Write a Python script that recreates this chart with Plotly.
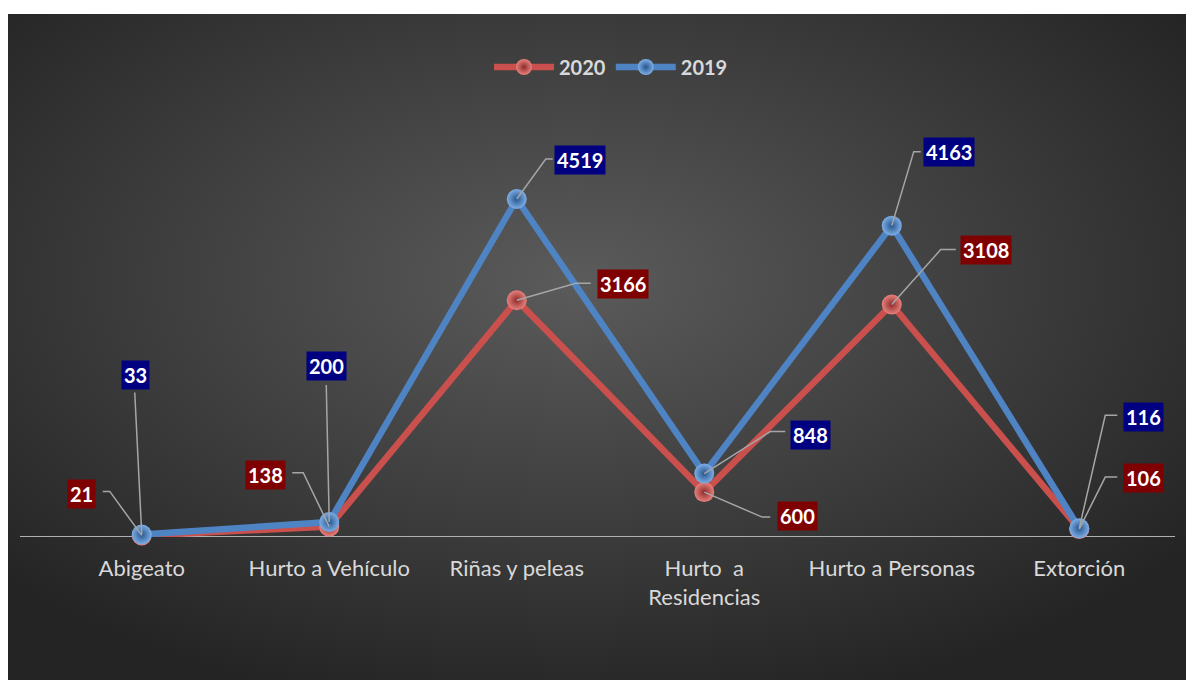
import base64
import plotly.graph_objects as go

# ---------------- data ----------------
categories = ["Abigeato", "Hurto a Vehículo", "Riñas y peleas",
              "Hurto  a<br>Residencias", "Hurto a Personas", "Extorción"]
series_names = ["2020", "2019"]
values_2020 = [21, 138, 3166, 600, 3108, 106]
values_2019 = [33, 200, 4519, 848, 4163, 116]

# ---------------- styling ----------------
OFF = 8                       # page body margin
W, H = 1194 - OFF, 683 - OFF
PLOT_L, PLOT_R, PLOT_T, PLOT_B = 48 - OFF, 1173 - OFF, 100 - OFF, 537 - OFF
PX_PER_UNIT = 0.074795
FONT = "Lato, 'Open Sans', sans-serif"
TXT = "#d9d9d9"

styles = {
    "2020": dict(line="#c9504d", center="#e8817e", edge="#8e2b29", box="#7f0000"),
    "2019": dict(line="#4f84c4", center="#7eaee6", edge="#27568f", box="#000080"),
}

# label placement: (dx, dy) box-centre offset from point in screen px (y down),
# leader polyline points relative to the point (screen px, y down)
label_layout = {
    "2020": [
        ((-60, -41), [(0, 0), (-32, -44), (-39, -44)]),
        ((-64, -52), [(0, 0), (-26, -54), (-37, -54)]),
        ((106, -16), [(0, 0), (59, -17), (74, -17)]),
        ((93, 24), [(0, 0), (58, 25), (66, 25)]),
        ((94, -55), [(0, 0), (49, -55), (64, -55)]),
        ((64, -51), [(0, 0), (26, -52), (38, -52)]),
    ],
    "2019": [
        ((-6, -160), [(0, 0), (-7, -142)]),
        ((-3, -156), [(0, 0), (-3, -137)]),
        ((63, -39), [(0, 0), (29, -40), (36, -40)]),
        ((106, -39), [(0, 0), (66, -42), (81, -42)]),
        ((57, -74), [(0, 0), (22, -74), (29, -74)]),
        ((64, -111), [(0, 0), (26, -113), (38, -113)]),
    ],
}

x_idx = list(range(len(categories)))
series_values = {"2020": values_2020, "2019": values_2019}

fig = go.Figure()
for name in series_names:
    st = styles[name]
    fig.add_trace(go.Scatter(
        x=x_idx, y=series_values[name], name=name, mode="lines+markers",
        line=dict(color=st["line"], width=6.5),
        marker=dict(size=20, color=st["center"],
                    gradient=dict(type="radial", color=st["edge"]),
                    line=dict(width=0)),
        cliponaxis=False, hoverinfo="skip",
    ))

shapes = []
annotations = []
for name in series_names:
    st = styles[name]
    for i, v in enumerate(series_values[name]):
        (dx, dy), pts = label_layout[name][i]
        path = "M " + " L ".join(f"{px},{-py}" for px, py in pts)
        shapes.append(dict(type="path", xref="x", yref="y",
                           xsizemode="pixel", ysizemode="pixel",
                           xanchor=i, yanchor=v, path=path,
                           line=dict(color="#a6a6a6", width=1.5), layer="above"))
        annotations.append(dict(x=i, y=v, xref="x", yref="y", text=f"<b>{v}</b>",
                                showarrow=False, xshift=dx, yshift=-dy,
                                bgcolor=st["box"], borderpad=2,
                                font=dict(family=FONT, size=20, color="white")))

# horizontal category axis line
pw = PLOT_R - PLOT_L
shapes.append(dict(type="line", xref="paper", yref="y",
                   x0=(20 - 48) / pw, x1=(1175 - 48) / pw, y0=0, y1=0,
                   line=dict(color="#b0b0b0", width=2), layer="below"))

# radial gradient background (chart area)
svg = ("<svg xmlns='http://www.w3.org/2000/svg' width='1180' height='666'>"
       "<defs><radialGradient id='g' cx='48%' cy='40%' r='66%'>"
       "<stop offset='0' stop-color='#5b5b5b'/>"
       "<stop offset='0.55' stop-color='#3d3d3d'/>"
       "<stop offset='1' stop-color='#242424'/>"
       "</radialGradient></defs>"
       "<rect width='1180' height='666' fill='url(#g)'/></svg>")
src = "data:image/svg+xml;base64," + base64.b64encode(svg.encode()).decode()
ph = PLOT_B - PLOT_T

fig.update_layout(
    width=W, height=H,
    margin=dict(l=PLOT_L, r=W - PLOT_R, t=PLOT_T, b=H - PLOT_B, pad=0),
    paper_bgcolor="white", plot_bgcolor="rgba(0,0,0,0)",
    images=[dict(source=src, xref="paper", yref="paper",
                 x=(8 - 48) / pw, y=(537 - 14) / ph,
                 sizex=1180 / pw, sizey=666 / ph,
                 xanchor="left", yanchor="top", sizing="stretch",
                 layer="below")],
    xaxis=dict(range=[-0.5, len(categories) - 0.5], tickvals=x_idx, ticktext=categories,
               showgrid=False, zeroline=False, showline=False, ticks="",
               ticklabelstandoff=16,
               tickfont=dict(family=FONT, size=22, color=TXT), fixedrange=True),
    yaxis=dict(range=[0, ph / PX_PER_UNIT], visible=False, showgrid=False,
               zeroline=False, fixedrange=True),
    legend=dict(orientation="h", x=(611 - 48) / pw, xanchor="center",
                y=(537 - 67) / ph, yanchor="middle",
                font=dict(family=FONT, size=20, color=TXT, weight="bold"),
                bgcolor="rgba(0,0,0,0)", itemwidth=60),
    shapes=shapes, annotations=annotations, showlegend=True,
)

fig.write_html("out.html")
